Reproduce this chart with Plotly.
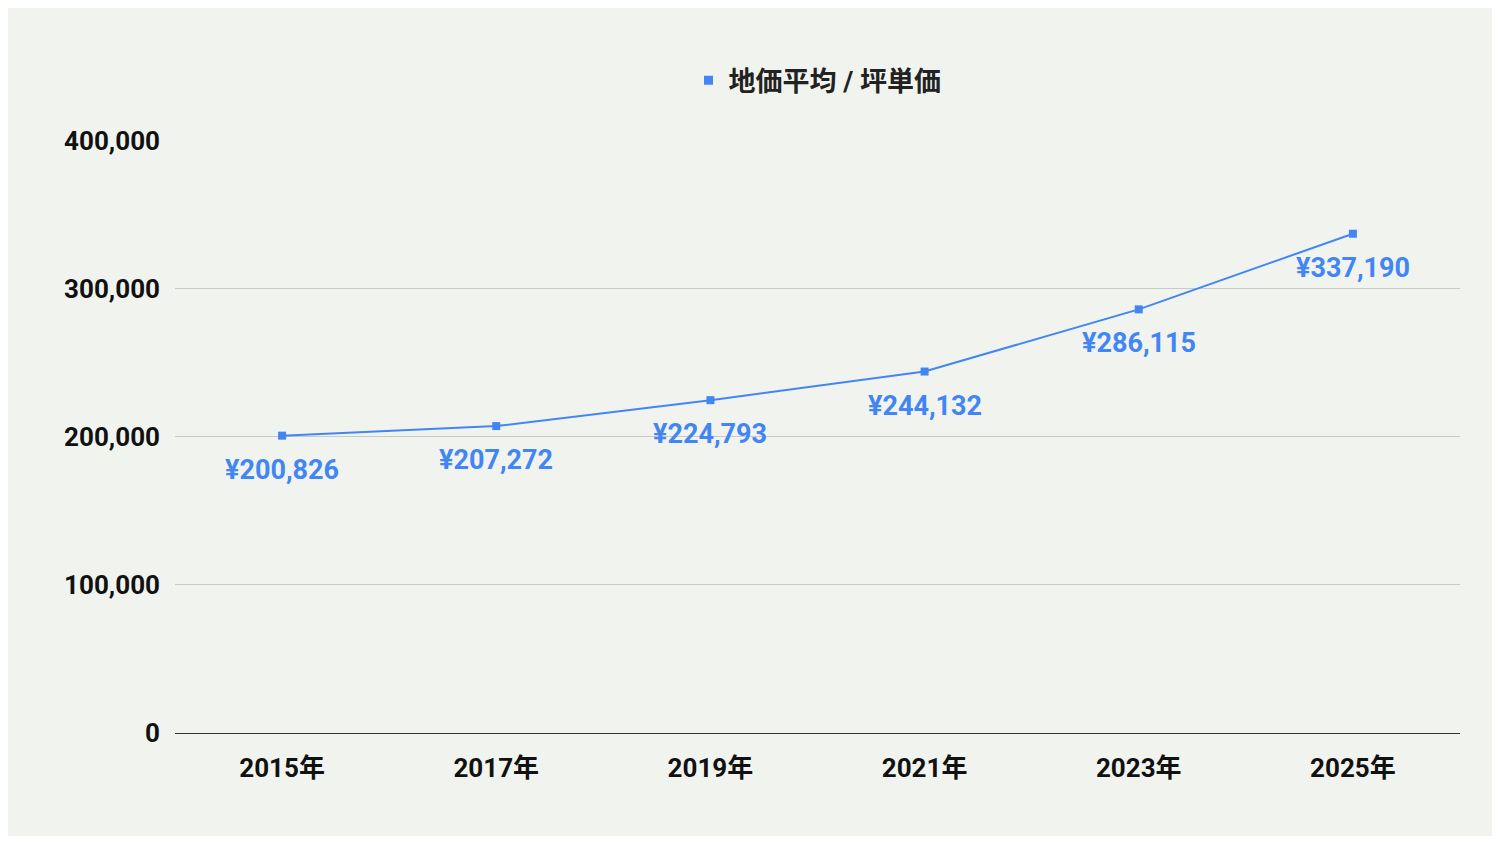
import plotly.graph_objects as go

# 地価平均 / 坪単価 ==========================================================
years = ["2015年", "2017年", "2019年", "2021年", "2023年", "2025年"]
price_per_tsubo = [200826, 207272, 224793, 244132, 286115, 337190]
price_labels = ["¥{:,}".format(v) for v in price_per_tsubo]

LINE = "#4285f4"
BG = "#f1f4ee"
FONT = "Roboto, Noto Sans CJK JP, sans-serif"

fig = go.Figure()
fig.add_trace(go.Scatter(
    x=years, y=price_per_tsubo, showlegend=False,
    mode="lines+markers",
    line=dict(color=LINE, width=2),
    marker=dict(symbol="square", size=8, color=LINE),
))
# legend entry: square marker only
fig.add_trace(go.Scatter(
    x=[None], y=[None], name="地価平均 / 坪単価", mode="markers",
    marker=dict(symbol="square", size=9, color=LINE),
))

for x, y, t in zip(years, price_per_tsubo, price_labels):
    fig.add_annotation(x=x, y=y, text=t, showarrow=False, yshift=-34,
                       font=dict(family=FONT, size=27, color=LINE, weight="bold"))

fig.update_layout(
    width=1484, height=828,
    paper_bgcolor=BG, plot_bgcolor=BG,
    margin=dict(l=167, r=32, t=132, b=103),
    font=dict(family=FONT, size=26, color="#111111", weight="bold"),
    showlegend=True,
    legend=dict(orientation="h", x=0.5, xanchor="center", y=1.1, yanchor="middle",
                font=dict(size=27, color="#222222", weight="bold")),
)
fig.update_xaxes(type="category", range=[-0.5, 5.5], showgrid=False,
                 showline=True, linecolor="#333333", ticks="", ticklabelstandoff=12)
fig.update_yaxes(range=[0, 400500], tickvals=[0, 100000, 200000, 300000, 400000],
                 tickprefix="¥", tickformat=",",
                 gridcolor="#c8cac5", zeroline=False, showline=False,
                 ticklabelstandoff=14)

fig.write_html("out.html")
